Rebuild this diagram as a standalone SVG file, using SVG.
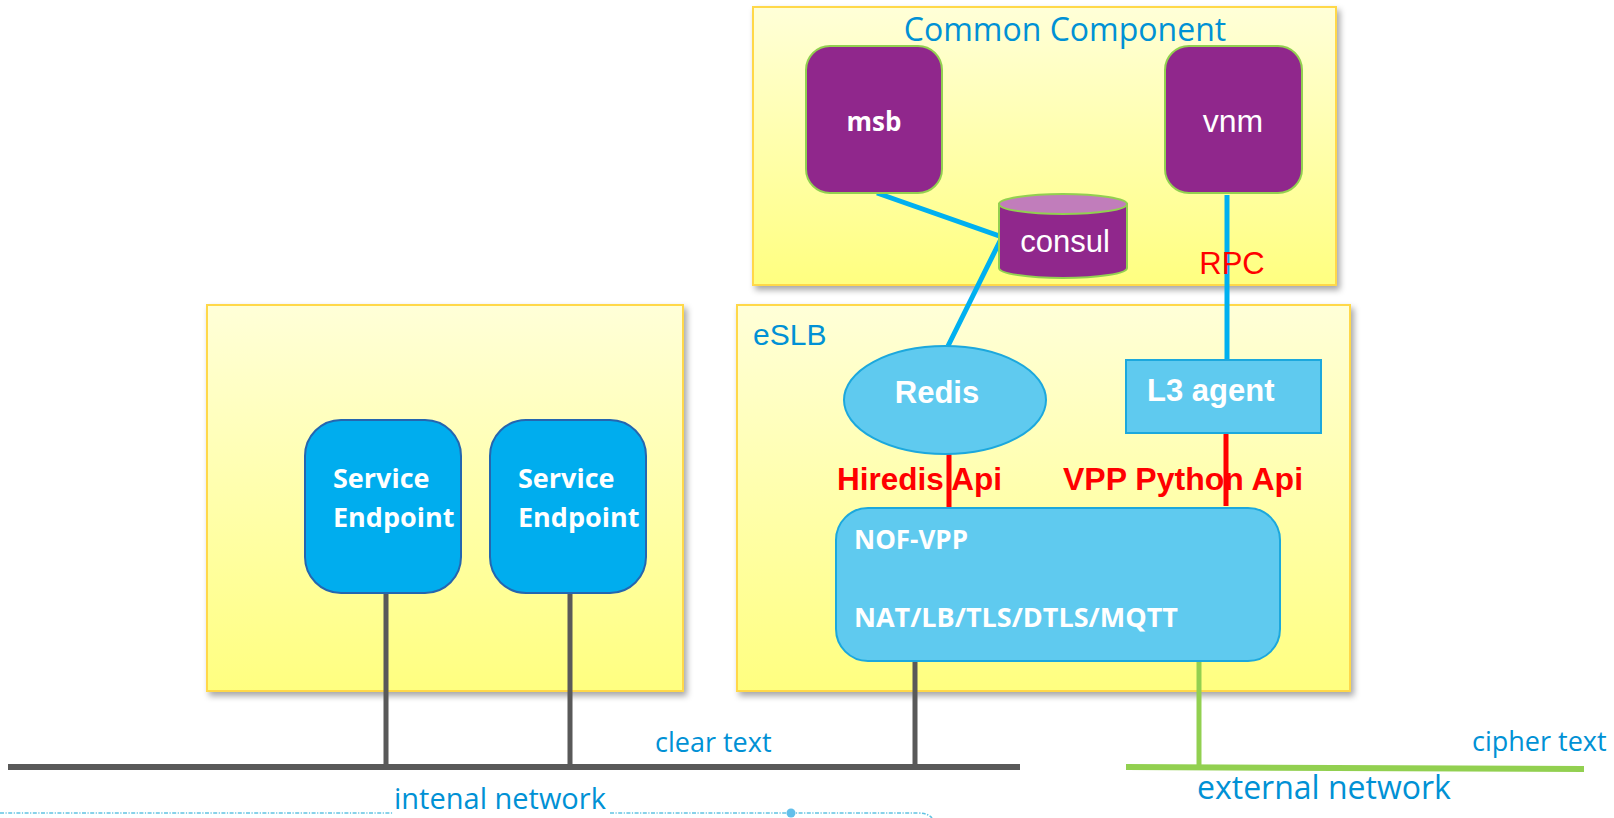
<svg xmlns="http://www.w3.org/2000/svg" width="1614" height="818" viewBox="0 0 1614 818">
<style>
.box{stroke:#ffd84a;stroke-width:2;fill:url(#yg);filter:url(#sh)}
.purple{fill:#90278c;stroke:#92d050;stroke-width:2}
.lblue{fill:#5fcaef;stroke:#1ca8dd;stroke-width:2}
.dblue{fill:#00adee;stroke:#2466b0;stroke-width:2}
.sans{font-family:"Liberation Sans",Arial,sans-serif}
.open{font-family:"Open Sans","Noto Sans",sans-serif}
.w{fill:#ffffff}
.bl{fill:#0091d5}
.red{fill:#ff0000}
.b{font-weight:bold}
.cy{stroke:#00b0f0;stroke-width:5;fill:none}
.rl{stroke:#ff0000;stroke-width:5;fill:none}
.gl{stroke:#595959;stroke-width:5;fill:none}
.gr{stroke:#92d050;stroke-width:5;fill:none}
</style>
<defs>
<linearGradient id="yg" x1="0" y1="0" x2="0" y2="1">
<stop offset="0" stop-color="#ffffd8"/>
<stop offset="1" stop-color="#ffff80"/>
</linearGradient>
<filter id="sh" x="-5%" y="-5%" width="110%" height="110%">
<feDropShadow dx="3" dy="4" stdDeviation="3" flood-color="#000" flood-opacity="0.35"/>
</filter>
</defs>
<rect width="1614" height="818" fill="#ffffff"/>

<g id="common-component">
<rect class="box" x="753" y="7" width="583" height="278"/>
<text class="open bl" x="1065" y="41" font-size="32" text-anchor="middle">Common Component</text>
</g>
<g id="eslb">
<rect class="box" x="737" y="305" width="613" height="386"/>
<text class="sans bl" x="753" y="345" font-size="30">eSLB</text>
</g>
<g id="service-host">
<rect class="box" x="207" y="305" width="476" height="386"/>
</g>

<g id="networks">
<line x1="8" y1="767" x2="1020" y2="767" stroke="#595959" stroke-width="6"/>
<line x1="1126" y1="767" x2="1584" y2="769" stroke="#92d050" stroke-width="6"/>
<text class="open bl" x="655" y="752" font-size="27">clear text</text>
<text class="open bl" x="1472" y="751" font-size="27">cipher text</text>
<text class="open bl" x="1197" y="799" font-size="32">external network</text>
<path d="M0,813 H393 M610,813 H917 Q928,813 932,818" stroke="#62c3e2" stroke-width="1.6" fill="none" stroke-dasharray="4 1.5 1.2 1.5"/>
<circle cx="791" cy="813" r="4.5" fill="#62bfea"/>
<text class="open bl" x="394" y="809" font-size="29">intenal network</text>
</g>

<g id="connectors">
<polyline class="cy" points="877,193 1002,237 948,346"/>
<line class="cy" x1="1227" y1="195" x2="1227" y2="360"/>
<text class="sans red" x="1232" y="274" font-size="31" text-anchor="middle">RPC</text>
<text class="sans red b" x="837" y="490" font-size="31.5">Hiredis Api</text>
<text class="sans red b" x="1063" y="490" font-size="32">VPP Python Api</text>
<line class="rl" x1="949" y1="454" x2="949" y2="508"/>
<line class="rl" x1="1226" y1="433" x2="1226" y2="506"/>
<line class="gl" x1="386" y1="593" x2="386" y2="767"/>
<line class="gl" x1="570" y1="593" x2="570" y2="767"/>
<line class="gl" x1="915" y1="661" x2="915" y2="767"/>
<line class="gr" x1="1199" y1="649" x2="1199" y2="767"/>
</g>

<g id="msb">
<rect class="purple" x="806" y="46" width="136" height="147" rx="24"/>
<text class="open w b" x="874" y="131" font-size="26" text-anchor="middle">msb</text>
</g>
<g id="vnm">
<rect class="purple" x="1165" y="46" width="137" height="147" rx="24"/>
<text class="sans w" x="1233" y="132" font-size="32" text-anchor="middle">vnm</text>
</g>
<g id="consul">
<path class="purple" d="M999,204 V268 A64,10 0 0 0 1127,268 V204 Z"/>
<ellipse cx="1063" cy="204" rx="64" ry="10" fill="#c17dbb" stroke="#92d050" stroke-width="2"/>
<text class="sans w" x="1065" y="252" font-size="31" text-anchor="middle">consul</text>
</g>
<g id="redis">
<ellipse class="lblue" cx="945" cy="400" rx="101" ry="54"/>
<text class="sans w b" x="937" y="403" font-size="31" text-anchor="middle">Redis</text>
</g>
<g id="l3-agent">
<rect class="lblue" x="1126" y="360" width="195" height="73"/>
<text class="sans w b" x="1147" y="401" font-size="31">L3 agent</text>
</g>
<g id="nof-vpp">
<rect class="lblue" x="836" y="508" width="444" height="153" rx="32"/>
<text class="open w b" x="854" y="549" font-size="26">NOF-VPP</text>
<text class="open w b" x="854" y="627" font-size="27">NAT/LB/TLS/DTLS/MQTT</text>
</g>
<g id="service-endpoint-1">
<rect class="dblue" x="305" y="420" width="156" height="173" rx="36"/>
<text class="open w b" x="333" y="488" font-size="27">Service</text>
<text class="open w b" x="333" y="527" font-size="27">Endpoint</text>
</g>
<g id="service-endpoint-2">
<rect class="dblue" x="490" y="420" width="156" height="173" rx="36"/>
<text class="open w b" x="518" y="488" font-size="27">Service</text>
<text class="open w b" x="518" y="527" font-size="27">Endpoint</text>
</g>
</svg>
